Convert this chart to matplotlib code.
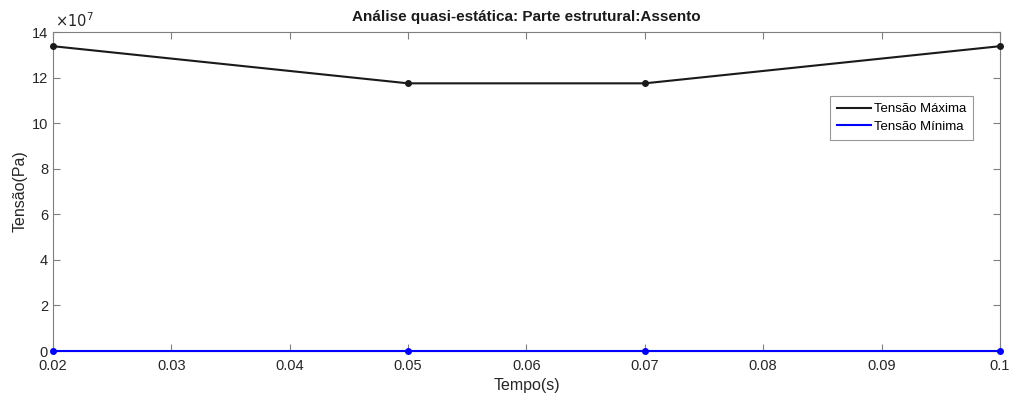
import numpy as np
import matplotlib
matplotlib.use("Agg")
from matplotlib import pyplot as plt
from matplotlib.ticker import FuncFormatter, MultipleLocator
from matplotlib.lines import Line2D

tempo = [0.02, 0.05, 0.07, 0.1]
tensao_max = [1.338e8, 1.175e8, 1.175e8, 1.338e8]
tensao_min = [0.0, 0.0, 0.0, 0.0]

plt.rcParams['font.family'] = ['Liberation Sans', 'DejaVu Sans']

fig = plt.figure(figsize=(10.09, 3.96), dpi=100)
ax = fig.add_axes([0.0525, 0.1136, 0.9385, 0.8054])

ax.plot(tempo, tensao_max, color="#1a1a1a", lw=1.5, marker="o", ms=4, clip_on=False, zorder=3)
ax.plot(tempo, tensao_min, color="#0000ff", lw=1.5, marker="o", ms=4, clip_on=False, zorder=3)

ax.set_xlim(0.02, 0.1)
ax.set_ylim(0, 14e7)
ax.xaxis.set_major_locator(MultipleLocator(0.01))
ax.yaxis.set_major_locator(MultipleLocator(2e7))
ax.xaxis.set_major_formatter(FuncFormatter(lambda v, p: "0.1" if abs(v - 0.1) < 1e-9 else f"{v:.2f}"))
ax.yaxis.set_major_formatter(FuncFormatter(lambda v, p: f"{v / 1e7:.0f}"))

for s in ax.spines.values():
    s.set_color("#7f7f7f")
    s.set_linewidth(0.8)
ax.tick_params(direction="in", top=True, right=True, length=5, width=0.8,
               colors="#7f7f7f", labelcolor="#262626", labelsize=10.5)
ax.tick_params(axis="x", pad=6)

ax.set_title("Análise quasi-estática: Parte estrutural:Assento", fontsize=11,
             fontweight="bold", color="#1a1a1a", pad=8)
ax.set_xlabel("Tempo(s)", fontsize=11.5, color="#262626", labelpad=3)
ax.set_ylabel("Tensão(Pa)", fontsize=11.5, color="#262626", labelpad=3)
ax.text(0.002, 1.006, r"$\times10^{7}$", transform=ax.transAxes, fontsize=10.5,
        color="#262626", ha="left", va="bottom")

handles = [Line2D([], [], color="#1a1a1a", lw=1.5), Line2D([], [], color="#0000ff", lw=1.5)]
leg = ax.legend(handles, ["Tensão Máxima", "Tensão Mínima"], loc="upper right",
                bbox_to_anchor=(0.972, 0.80), fontsize=9.5,
                frameon=True, fancybox=False, handlelength=2.6, handletextpad=0.2,
                borderpad=0.55, labelspacing=0.4, borderaxespad=0)
leg.get_frame().set_edgecolor("#7f7f7f")
leg.get_frame().set_linewidth(0.8)

fig.savefig("out.png", dpi=100)
